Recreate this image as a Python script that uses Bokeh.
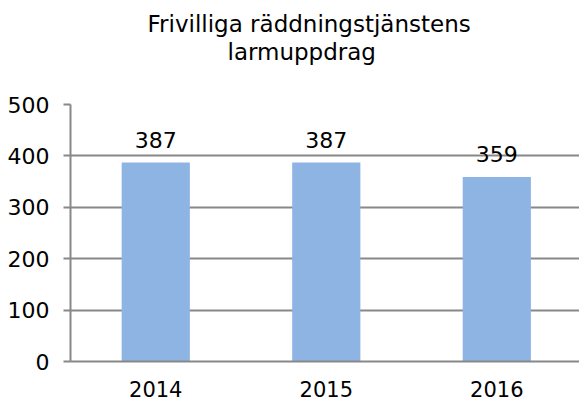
from bokeh.plotting import figure
from bokeh.models import Range1d, LabelSet, ColumnDataSource, FixedTicker, Title
from bokeh.core.properties import value
from bokeh.embed import file_html
from bokeh.resources import INLINE

years = ["2014", "2015", "2016"]
values = [387, 387, 359]
y_ticks = [0, 100, 200, 300, 400, 500]
title_lines = ["Frivilliga räddningstjänstens", "larmuppdrag"]

FONT = "DejaVu Sans"
BAR = "#8EB4E3"
GRID = "#888888"

W, H = 579, 403
LEFT, RIGHT, TOP, BOTTOM = 70, 0, 104, 42

xs = list(range(len(years)))
src = ColumnDataSource(dict(x=xs, top=values, label=[str(v) for v in values]))

p = figure(width=W, height=H, output_backend="svg", toolbar_location=None,
           x_range=Range1d(-0.5, 2.485), y_range=Range1d(0, 500),
           min_border_left=LEFT, min_border_right=RIGHT,
           min_border_top=TOP, min_border_bottom=BOTTOM)
p.outline_line_color = None
p.background_fill_color = "white"
p.border_fill_color = "white"

p.vbar(x="x", top="top", width=0.4, source=src, fill_color=BAR, line_color=None)
p.add_layout(LabelSet(x="x", y="top", text="label", source=src, text_align="center",
                      text_baseline="alphabetic", y_offset=15,
                      text_font_size=value("22px"), text_color=value("#000000"),
                      text_font=value(FONT)))

# x axis
p.xaxis.ticker = FixedTicker(ticks=xs)
p.xaxis.major_label_overrides = {i: y for i, y in enumerate(years)}
p.xaxis.major_tick_line_color = None
p.xaxis.major_tick_out = 0
p.xaxis.major_tick_in = 0
p.xaxis.minor_tick_line_color = None
p.xaxis.axis_line_color = GRID
p.xaxis.axis_line_width = 2
p.xaxis.major_label_text_font = FONT
p.xaxis.major_label_text_font_size = "21px"
p.xaxis.major_label_text_color = "#000000"
p.xaxis.major_label_standoff = 19

# y axis
p.yaxis.ticker = FixedTicker(ticks=y_ticks)
p.yaxis.minor_tick_line_color = None
p.yaxis.major_tick_line_color = GRID
p.yaxis.major_tick_line_width = 2
p.yaxis.major_tick_out = 7
p.yaxis.major_tick_in = 0
p.yaxis.axis_line_color = GRID
p.yaxis.axis_line_width = 2
p.yaxis.major_label_text_font = FONT
p.yaxis.major_label_text_font_size = "22px"
p.yaxis.major_label_text_color = "#000000"
p.yaxis.major_label_standoff = 14

p.xgrid.grid_line_color = None
p.ygrid.ticker = FixedTicker(ticks=y_ticks)
p.ygrid.grid_line_color = GRID
p.ygrid.grid_line_width = 2

# spacer between the title and the plot frame
p.add_layout(Title(text=" ", text_font=FONT, text_font_size="23px", standoff=12), "above")
# two-line title: the later-added title sits further from the plot
for line, off in [(title_lines[1], 157), (title_lines[0], 77)]:
    p.add_layout(Title(text=line, align="left", offset=off, text_font=FONT,
                       text_font_size="23px", text_font_style="normal",
                       text_color="#000000", standoff=0), "above")

open("out.html", "w").write(file_html(p, INLINE))
